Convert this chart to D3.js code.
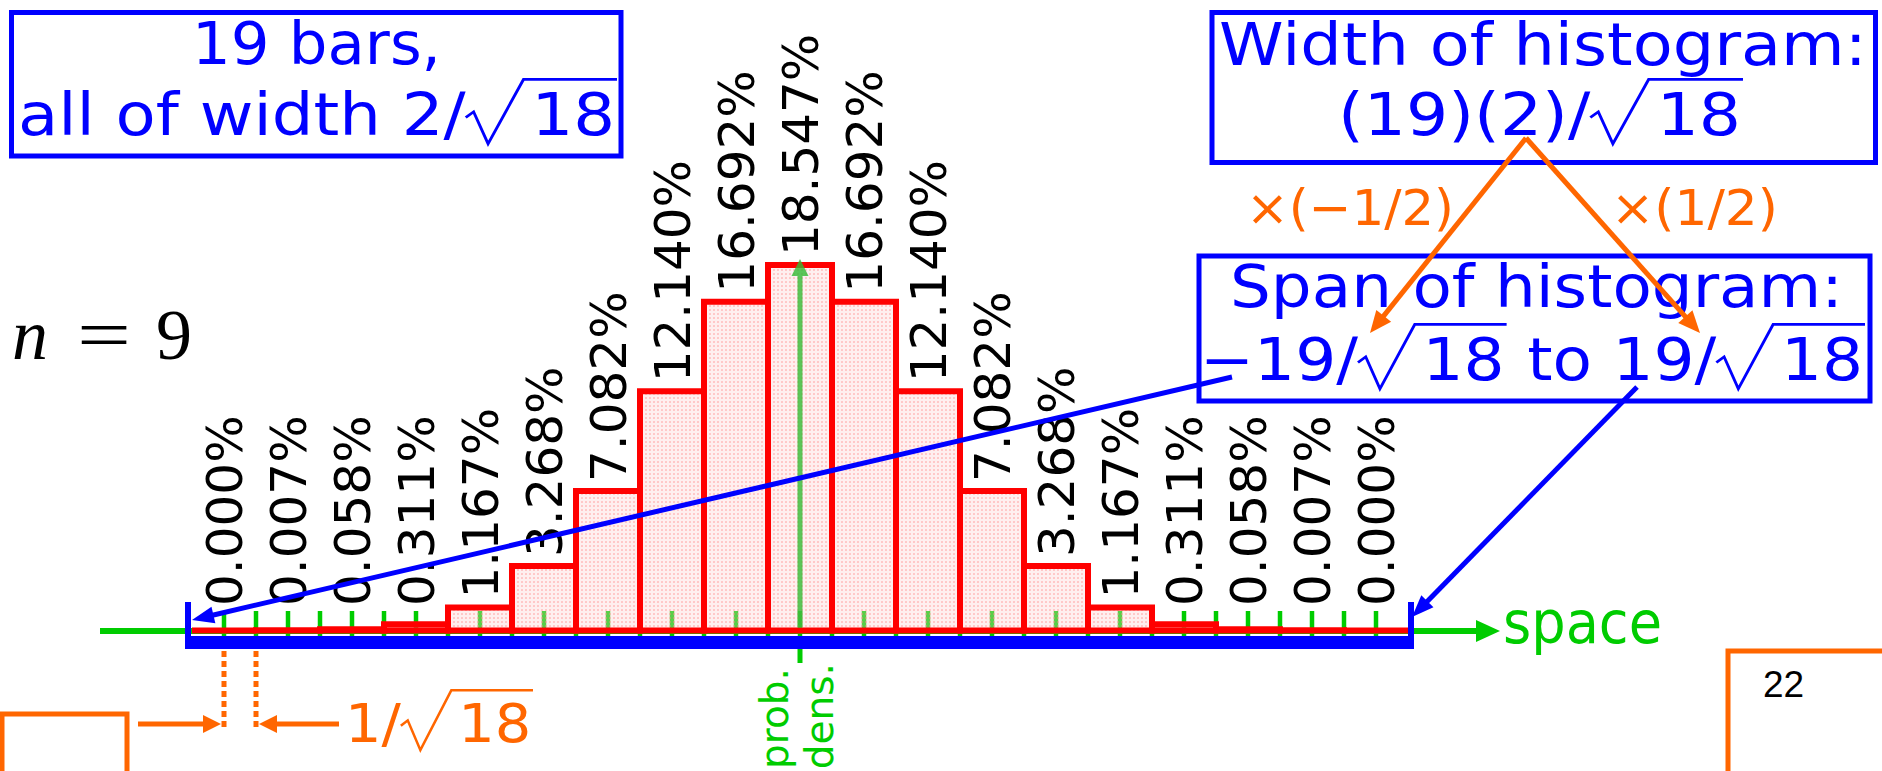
<!DOCTYPE html>
<html><head><meta charset="utf-8">
<script src="https://cdn.jsdelivr.net/npm/d3@7"></script>
<style>html,body{margin:0;padding:0;background:#fff;overflow:hidden}</style>
</head><body>
<svg id="c" width="1882" height="771"></svg>
<script>
// ---- data ----
const binCenters = [-18,-16,-14,-12,-10,-8,-6,-4,-2,0,2,4,6,8,10,12,14,16,18]; // units of 1/sqrt(18)
const percentValues = [0.000,0.007,0.058,0.311,1.167,3.268,7.082,12.140,16.692,18.547,16.692,12.140,7.082,3.268,1.167,0.311,0.058,0.007,0.000];
const percentLabels = ["0.000%","0.007%","0.058%","0.311%","1.167%","3.268%","7.082%","12.140%","16.692%","18.547%","16.692%","12.140%","7.082%","3.268%","1.167%","0.311%","0.058%","0.007%","0.000%"];
const tickUnits = d3.range(-18, 19);
const spanUnits = [-19, 19];
const binHalfWidth = 1;

const BLUE = "#0000ff", RED = "#ff0000", GREEN = "#00cc00", ORANGE = "#ff6600";
const SANS = "'DejaVu Sans', sans-serif";

const svg = d3.select("#c");
const x = d3.scaleLinear().domain(spanUnits).range([192, 1408]);
const y = d3.scaleLinear().domain([0, 20]).range([630.5, 236.5]);
const y0 = y(0);

const defs = svg.append("defs");
const pat = defs.append("pattern").attr("id","dots").attr("width",4).attr("height",4)
  .attr("patternUnits","userSpaceOnUse");
pat.append("rect").attr("width",4).attr("height",4).attr("fill","#ffd0d0").attr("fill-opacity",0.35);
pat.append("circle").attr("cx",2).attr("cy",2).attr("r",0.95).attr("fill","#ff8a8a").attr("fill-opacity",0.55);

// ---- helpers ----
function mathLine(parent, parts, o) {
  const g = parent.append("g");
  const em = o.size;
  let cur = 0;
  parts.forEach(p => {
    if (typeof p === "string") {
      const t = g.append("text").attr("x", cur).attr("y", 0)
        .attr("font-size", em).attr("font-family", o.family || SANS)
        .attr("fill", o.color).style("white-space","pre").text(p);
      cur += t.node().getComputedTextLength();
    } else {
      const start = cur;
      const t = g.append("text").attr("x", start + 1.0*em).attr("y", 0)
        .attr("font-size", em).attr("font-family", o.family || SANS)
        .attr("fill", o.color).style("white-space","pre").text(p.sqrt);
      const rw = t.node().getComputedTextLength();
      const end = start + 1.0*em + rw + 0.03*em;
      const pts = [[0,-0.30],[0.12,-0.40],[0.34,0.15],[0.88,-0.96]].map(q => [start + q[0]*em, q[1]*em]);
      pts.push([end, -0.96*em]);
      g.append("path").attr("d", d3.line()(pts)).attr("fill","none")
        .attr("stroke", o.color).attr("stroke-width", 0.045*em).attr("stroke-linejoin","miter");
      cur = end;
    }
  });
  const sx = (o.right - o.left) / cur;
  g.attr("transform", `translate(${o.left},${o.baseline}) scale(${sx},1)`);
  return g;
}
function arrow(g, x1, y1, x2, y2, color, w, hl, hw) {
  const dx = x2-x1, dy = y2-y1, L = Math.hypot(dx,dy), ux = dx/L, uy = dy/L;
  const bx = x2-ux*hl, by = y2-uy*hl;
  g.append("line").attr("x1",x1).attr("y1",y1).attr("x2",bx+ux*1).attr("y2",by+uy*1)
    .attr("stroke",color).attr("stroke-width",w);
  g.append("polygon").attr("points",
    [[x2,y2],[bx-uy*hw/2, by+ux*hw/2],[bx+uy*hw/2, by-ux*hw/2]].map(p=>p.join(",")).join(" "))
    .attr("fill",color);
}

// ---- boxes & texts ----
const hdr = svg.append("g");
hdr.append("rect").attr("x",11.5).attr("y",12.5).attr("width",609.5).attr("height",143.5)
  .attr("fill","none").attr("stroke",BLUE).attr("stroke-width",5);
mathLine(hdr, ["19 bars,"], {left:192, right:441, baseline:64, size:58, color:BLUE});
mathLine(hdr, ["all of width 2/", {sqrt:"18"}], {left:18, right:617, baseline:135, size:58, color:BLUE});

hdr.append("rect").attr("x",1212).attr("y",12.5).attr("width",663.5).attr("height",150)
  .attr("fill","none").attr("stroke",BLUE).attr("stroke-width",5);
mathLine(hdr, ["Width of histogram:"], {left:1219, right:1867, baseline:65, size:58, color:BLUE});
mathLine(hdr, ["(19)(2)/", {sqrt:"18"}], {left:1338, right:1743, baseline:135, size:58, color:BLUE});

mathLine(hdr, ["\u00d7(\u22121/2)"], {left:1246, right:1454, baseline:225, size:50, color:ORANGE});
mathLine(hdr, ["\u00d7(1/2)"], {left:1611, right:1778, baseline:225, size:50, color:ORANGE});

hdr.append("rect").attr("x",1199).attr("y",256).attr("width",671).attr("height",145)
  .attr("fill","none").attr("stroke",BLUE).attr("stroke-width",5);
mathLine(hdr, ["Span of histogram:"], {left:1230, right:1843, baseline:307, size:58, color:BLUE});
mathLine(hdr, ["\u221219/", {sqrt:"18"}, " to 19/", {sqrt:"18"}], {left:1200, right:1865, baseline:380, size:58, color:BLUE});

// n = 9
const nEq = svg.append("g").attr("font-family","'Liberation Serif', serif").attr("font-size",72).attr("fill","#000");
nEq.append("text").attr("x",12).attr("y",359).attr("font-style","italic").text("n");
nEq.append("text").attr("x",77).attr("y",359).attr("textLength",54).attr("lengthAdjust","spacingAndGlyphs").text("=");
nEq.append("text").attr("x",156).attr("y",359).text("9");

// ---- axis (under bars) ----
const ax = svg.append("g");
ax.append("line").attr("x1",100).attr("x2",1478).attr("y1",631).attr("y2",631)
  .attr("stroke",GREEN).attr("stroke-width",6);
ax.append("polygon").attr("points",`1476,620 1500,631 1476,642`).attr("fill",GREEN);
ax.selectAll("line.tick").data(tickUnits).join("line").attr("class","tick")
  .attr("x1",d=>x(d)).attr("x2",d=>x(d)).attr("y1",611).attr("y2",637)
  .attr("stroke",GREEN).attr("stroke-width",4.5);
ax.append("line").attr("x1",x(0)).attr("x2",x(0)).attr("y1",648).attr("y2",663)
  .attr("stroke",GREEN).attr("stroke-width",5);
mathLine(ax, ["space"], {left:1503, right:1662, baseline:643, size:58, color:GREEN});

const pd = svg.append("g").attr("font-family",SANS).attr("font-size",39).attr("fill",GREEN)
  .attr("text-anchor","end");
pd.append("text").attr("transform",`translate(${x(0)-12},668) rotate(-90)`).text("prob.");
pd.append("text").attr("transform",`translate(${x(0)+33},663) rotate(-90)`).text("dens.");

// ---- bars ----
const bars = binCenters.map((c,i)=>({c, v:percentValues[i], label:percentLabels[i]}));
svg.append("g").selectAll("path").data(bars).join("path")
  .attr("d", d => {
    const x0 = x(d.c-binHalfWidth), x1 = x(d.c+binHalfWidth), yt = y(d.v);
    return `M${x0},${y0}V${yt}H${x1}V${y0}Z`;
  })
  .attr("fill","url(#dots)").attr("stroke",RED).attr("stroke-width",6).attr("stroke-linejoin","miter");

// center prob. density arrow (over the fill)
const peak = d3.max(percentValues);
arrow(svg.append("g").attr("opacity",0.8), x(0), y0-3, x(0), y(peak)-6, "#33bb33", 5, 17, 17);

// blue span bar
const sp = svg.append("g").attr("fill",BLUE);
sp.append("rect").attr("x",x(spanUnits[0])-7).attr("y",636).attr("width",x(spanUnits[1])-x(spanUnits[0])+13).attr("height",13);
sp.append("rect").attr("x",x(spanUnits[0])-7).attr("y",602).attr("width",6).attr("height",47);
sp.append("rect").attr("x",x(spanUnits[1])).attr("y",602).attr("width",6).attr("height",47);

// labels
svg.append("g").attr("font-family",SANS).attr("font-size",50).attr("fill","#000")
  .selectAll("text").data(bars).join("text")
  .attr("transform", d => `translate(${x(d.c)},${Math.min(y(d.v)-9, 606)}) rotate(-90)`)
  .attr("dy","0.36em").text(d=>d.label);

// ---- blue arrows ----
const ba = svg.append("g");
arrow(ba, 1232, 377, x(spanUnits[0]), 620, BLUE, 5, 22, 17);
arrow(ba, 1637, 387, x(spanUnits[1])+4, 617, BLUE, 5, 22, 17);

// ---- orange ----
const og = svg.append("g");
arrow(og, 1526, 138, 1370, 333, ORANGE, 5, 22, 19);
arrow(og, 1526, 138, 1700, 333, ORANGE, 5, 22, 19);
[-18,-17].forEach(k=>{
  og.append("line").attr("x1",x(k)).attr("x2",x(k)).attr("y1",651).attr("y2",731)
    .attr("stroke",ORANGE).attr("stroke-width",5).attr("stroke-dasharray","6,4");
});
arrow(og, 138, 724, x(-18)-3, 724, ORANGE, 5, 18, 18);
arrow(og, 339, 724, x(-17)+3, 724, ORANGE, 5, 18, 18);
mathLine(og, ["1/", {sqrt:"18"}], {left:345, right:533, baseline:742, size:54, color:ORANGE});
og.append("path").attr("d","M2,780 V714 H127 V780").attr("fill","none").attr("stroke",ORANGE).attr("stroke-width",5);
og.append("path").attr("d","M1728,790 V651 H1900").attr("fill","none").attr("stroke",ORANGE).attr("stroke-width",5);
svg.append("text").attr("x",1763).attr("y",697).attr("font-family","'Liberation Sans', Arial, sans-serif")
  .attr("font-size",37).attr("fill","#000").text("22");
</script>
</body></html>
